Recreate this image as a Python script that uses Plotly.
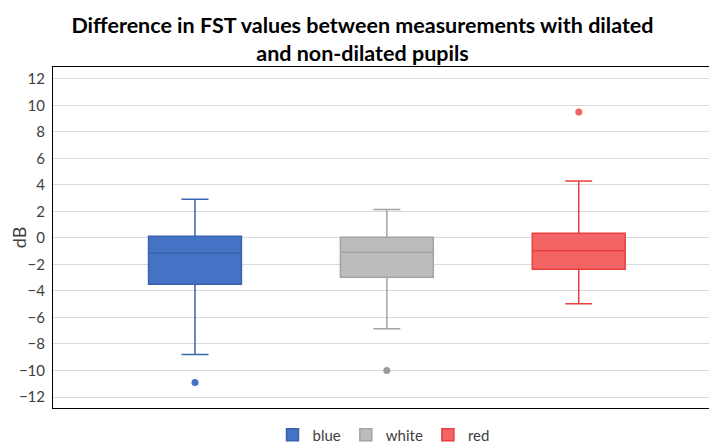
import plotly.graph_objects as go

categories = ["blue", "white", "red"]
q1 = [-3.5, -2.97, -2.37]
median = [-1.13, -1.07, -0.97]
q3 = [0.12, 0.05, 0.35]
lower_whisker = [-8.8, -6.85, -4.97]
upper_whisker = [2.93, 2.15, 4.3]
outliers = [[-10.9], [-10.0], [9.5]]
fill_colors = ["#4472C4", "#BCBCBC", "#F46464"]
line_colors = ["#3A63AE", "#A3A3A3", "#E83E3E"]
y_ticks = list(range(-12, 13, 2))

fig = go.Figure()
for i, cat in enumerate(categories):
    fig.add_trace(go.Box(
        name=cat, x=[i], q1=[q1[i]], median=[median[i]], q3=[q3[i]],
        lowerfence=[lower_whisker[i]], upperfence=[upper_whisker[i]],
        fillcolor=fill_colors[i], line=dict(color=line_colors[i], width=1.5),
        width=0.484, whiskerwidth=0.29, boxpoints=False, opacity=1,
    ))
    fig.add_trace(go.Scatter(
        x=[i] * len(outliers[i]), y=outliers[i], mode="markers",
        marker=dict(color=fill_colors[i] if i != 1 else "#9A9A9A", size=7,
                    line=dict(width=0)),
        showlegend=False, hoverinfo="y",
    ))

font_family = "Lato, 'Liberation Sans', sans-serif"
fig.update_layout(
    width=709, height=437,
    margin=dict(l=45, r=3, t=59, b=37, autoexpand=False),
    paper_bgcolor="white", plot_bgcolor="white",
    font=dict(family=font_family, size=15, color="#404040"),
    title=dict(
        text="<b>Difference in FST values between measurements with dilated<br>and non-dilated pupils</b>",
        x=0.5, xanchor="center", xref="container", y=0.943, yanchor="middle", yref="container",
        font=dict(family=font_family, size=21.5, color="black"),
    ),
    showlegend=True,
    legend=dict(orientation="h", x=0.5, xanchor="center", y=-0.079, yanchor="middle",
                font=dict(size=15, color="#404040"), traceorder="normal"),
    xaxis=dict(range=[-0.74, 2.705], showticklabels=False, showgrid=False, zeroline=False,
               showline=True, linecolor="black", linewidth=1, mirror=True, ticks="",
               automargin=False),
    yaxis=dict(range=[-12.83, 12.9], tickvals=y_ticks, showgrid=True, gridcolor="#D9D9D9",
               gridwidth=1, zeroline=False, showline=True, linecolor="black", linewidth=1,
               mirror=True, title=dict(text="dB", standoff=17), automargin=False,
               ticklabelstandoff=4,
               tickfont=dict(size=15, color="#404040")),
)
fig.write_html("out.html")
